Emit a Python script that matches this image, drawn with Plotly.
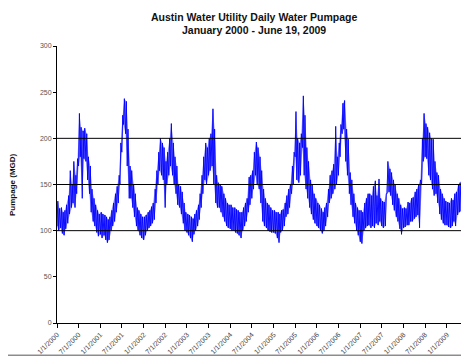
import pandas as pd
import plotly.graph_objects as go

# Semi-monthly periods (1st and 15th of each month), Jan 2000 - Jun 2009
PERIOD_START = "2000-01-01"
PERIOD_END = "2009-06-15"
LAST_DAY = "2009-06-19"

# Lower and upper edges of the daily pumpage band (MGD) read per half-month
LO_2000 = [105, 100, 103, 97, 95, 102, 108, 118, 125, 130, 125, 140, 170, 180, 135, 178, 175, 155, 140, 120, 110, 105, 98, 94]
HI_2000 = [132, 124, 125, 120, 122, 128, 138, 165, 150, 175, 160, 178, 227, 212, 208, 211, 205, 180, 170, 145, 135, 128, 122, 118]
LO_2001 = [96, 92, 95, 90, 87, 90, 100, 105, 110, 120, 130, 150, 185, 215, 205, 170, 135, 135, 125, 115, 105, 100, 95, 92]
HI_2001 = [120, 118, 117, 115, 112, 115, 122, 130, 140, 148, 160, 195, 225, 243, 240, 210, 170, 165, 150, 140, 125, 122, 118, 115]
LO_2002 = [90, 95, 100, 103, 105, 108, 112, 130, 150, 165, 160, 155, 125, 150, 160, 170, 160, 150, 140, 128, 125, 118, 108, 100]
HI_2002 = [115, 117, 120, 122, 126, 130, 145, 165, 185, 200, 195, 190, 175, 185, 200, 216, 195, 180, 170, 150, 148, 142, 130, 120]
LO_2003 = [98, 95, 92, 88, 96, 100, 105, 112, 125, 140, 155, 150, 160, 165, 170, 150, 130, 125, 125, 120, 115, 110, 105, 103]
HI_2003 = [118, 117, 115, 113, 118, 122, 128, 140, 160, 180, 195, 190, 200, 205, 232, 210, 160, 152, 150, 148, 140, 135, 130, 128]
LO_2004 = [102, 100, 100, 98, 97, 95, 92, 100, 105, 110, 120, 128, 135, 145, 160, 150, 145, 130, 110, 105, 103, 100, 99, 98]
HI_2004 = [128, 125, 125, 123, 122, 120, 120, 125, 130, 135, 158, 160, 165, 185, 196, 190, 180, 165, 145, 135, 130, 128, 125, 122]
LO_2005 = [98, 97, 92, 87, 98, 100, 105, 115, 118, 125, 140, 150, 180, 155, 152, 160, 190, 160, 145, 135, 125, 118, 112, 108]
HI_2005 = [122, 120, 120, 118, 122, 123, 130, 138, 145, 150, 170, 185, 229, 200, 195, 205, 246, 225, 190, 175, 155, 150, 140, 135]
LO_2006 = [105, 103, 100, 97, 100, 105, 115, 130, 135, 140, 145, 150, 160, 180, 205, 210, 175, 160, 140, 128, 115, 108, 100, 95]
HI_2006 = [130, 128, 124, 120, 125, 130, 145, 160, 165, 172, 213, 180, 195, 215, 238, 241, 210, 199, 163, 155, 140, 130, 125, 122]
LO_2007 = [88, 86, 100, 103, 105, 106, 103, 105, 103, 108, 106, 110, 105, 103, 105, 140, 142, 138, 128, 122, 115, 110, 102, 96]
HI_2007 = [122, 120, 130, 135, 140, 140, 138, 148, 154, 138, 156, 135, 132, 131, 140, 175, 167, 163, 155, 150, 140, 135, 128, 124]
LO_2008 = [103, 104, 106, 106, 110, 110, 113, 115, 117, 103, 150, 175, 180, 178, 160, 155, 145, 138, 140, 130, 118, 112, 108, 106]
HI_2008 = [125, 124, 131, 130, 135, 136, 142, 145, 150, 155, 200, 227, 216, 212, 206, 200, 199, 175, 163, 160, 145, 140, 135, 132]
LO_2009 = [106, 104, 103, 105, 110, 105, 117, 120, 121, 120, 150, 160]
HI_2009 = [131, 130, 135, 133, 140, 142, 150, 152, 156, 170, 199, 195]

Y_TICKS = [0, 50, 100, 150, 200, 250, 300]
GRID_LEVELS = [100, 150, 200]
TITLE_1 = "Austin Water Utility Daily Water Pumpage"
TITLE_2 = "January 2000 - June 19, 2009"
Y_TITLE = "Pumpage (MGD)"

LO = LO_2000 + LO_2001 + LO_2002 + LO_2003 + LO_2004 + LO_2005 + LO_2006 + LO_2007 + LO_2008 + LO_2009
HI = HI_2000 + HI_2001 + HI_2002 + HI_2003 + HI_2004 + HI_2005 + HI_2006 + HI_2007 + HI_2008 + HI_2009

periods = pd.date_range(PERIOD_START, PERIOD_END, freq="SMS")
xs, ys = [], []
for d, lo, hi in zip(periods, LO, HI):
    xs += [d, d + pd.Timedelta(days=7)]
    ys += [lo, hi]

# envelope band (hi at the mid-period date, lo at the period start)
x_hi = [d + pd.Timedelta(days=7) for d in periods]
x_lo = list(periods)

FONT = "Liberation Sans, Arial, sans-serif"

fig = go.Figure()
fig.add_trace(go.Scatter(x=x_lo + x_hi[::-1], y=LO + HI[::-1], mode="lines",
                         fill="toself", fillcolor="rgba(60,60,255,0.55)",
                         line=dict(width=0), hoverinfo="skip", showlegend=False))
fig.add_trace(go.Scatter(x=xs, y=ys, mode="lines",
                         line=dict(color="#0000FF", width=0.9),
                         hoverinfo="skip", showlegend=False))

W, H = 469, 357
L, R, T, B = 49, 10, 38, 35
pw, ph = W - L - R, H - T - B

def px_x(px):
    return (px - L) / pw

def px_y(py):
    return (H - B - py) / ph

shapes = []
for g in GRID_LEVELS:
    shapes.append(dict(type="line", xref="paper", yref="y", x0=0, x1=1, y0=g, y1=g,
                       line=dict(color="black", width=1), layer="above"))
shapes.append(dict(type="line", xref="paper", yref="paper", x0=1, x1=1, y0=0, y1=1,
                   line=dict(color="#8a8a8a", width=1), layer="above"))
shapes.append(dict(type="line", xref="paper", yref="paper",
                   x0=px_x(0), x1=px_x(W), y0=px_y(355), y1=px_y(355),
                   line=dict(color="#555555", width=1), layer="above"))

annotations = [
    dict(text="<b>%s</b>" % TITLE_1, showarrow=False, xref="paper", yref="paper",
         x=px_x(246), y=px_y(8), xanchor="center", yanchor="middle",
         font=dict(size=10.5, family=FONT, color="#111")),
    dict(text="<b>%s</b>" % TITLE_2, showarrow=False, xref="paper", yref="paper",
         x=px_x(246), y=px_y(21.5), xanchor="center", yanchor="middle",
         font=dict(size=10.5, family=FONT, color="#111")),
    dict(text="<b>%s</b>" % Y_TITLE, textangle=-90, showarrow=False,
         xref="paper", yref="paper", x=px_x(4.5), y=px_y(180),
         xanchor="center", yanchor="middle",
         font=dict(size=8, family=FONT, color="#111")),
]

fig.update_layout(
    width=W, height=H,
    margin=dict(l=L, r=R, t=T, b=B),
    paper_bgcolor="white", plot_bgcolor="white",
    font=dict(family=FONT, color="black"),
    shapes=shapes,
    annotations=annotations,
    xaxis=dict(type="date", range=[PERIOD_START, LAST_DAY],
               tick0=PERIOD_START, dtick="M6", tickformat="%-m/%-d/%Y",
               tickangle=-45, ticks="outside", ticklen=4, tickcolor="black",
               showline=True, linecolor="black", linewidth=1, showgrid=False,
               zeroline=False, tickfont=dict(size=7, color="#444")),
    yaxis=dict(range=[0, 300], tickvals=Y_TICKS, ticks="outside", ticklen=3,
               tickcolor="black", showline=True, linecolor="black", linewidth=1,
               showgrid=False, zeroline=False, tickfont=dict(size=7, color="#555")),
)

fig.write_html("out.html")
